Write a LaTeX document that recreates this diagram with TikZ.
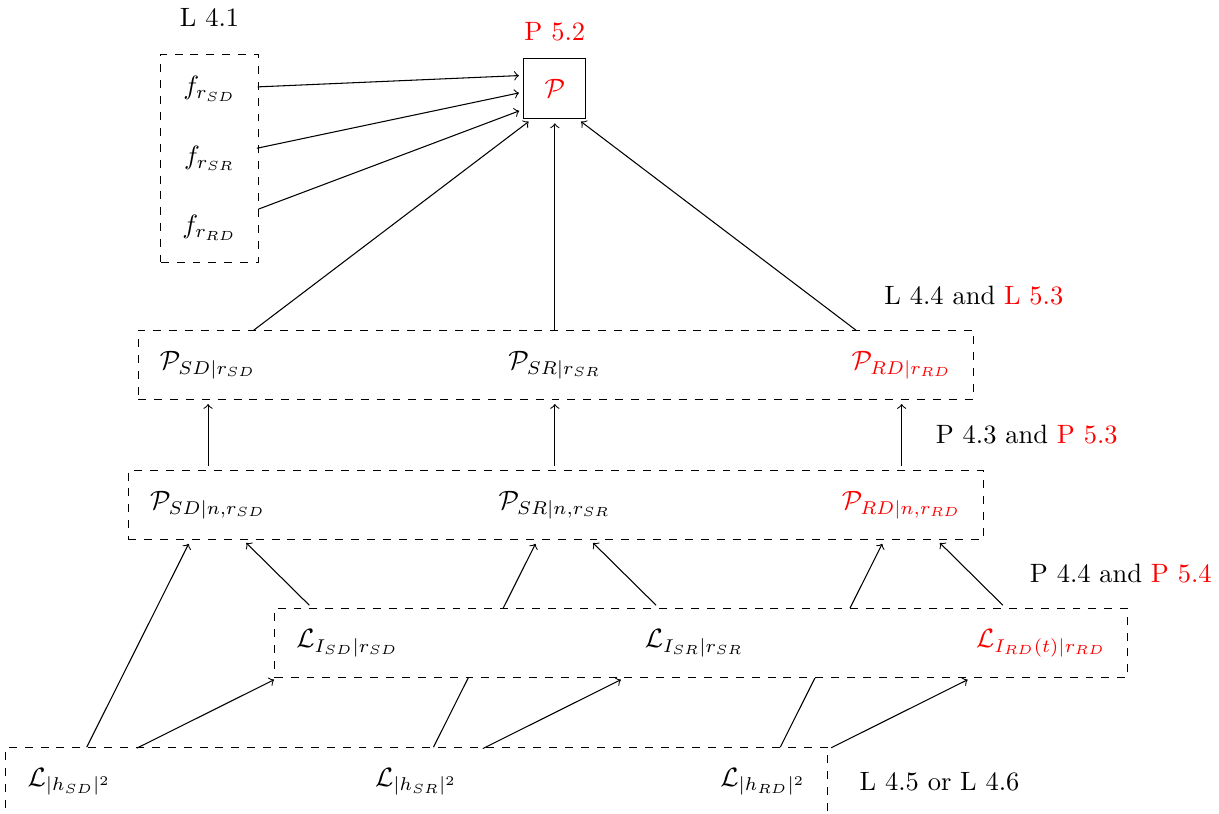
\documentclass[tikz,border=0pt]{standalone}
\usepackage{amsmath,amssymb}
\usepackage{xcolor}
\usetikzlibrary{positioning,fit,backgrounds}

\begin{document}
\begin{tikzpicture}[
    entry/.style={minimum height=0.905cm, inner xsep=8pt, inner ysep=0pt},
    dashbox/.style={draw, dashed, inner sep=0pt},
    arr/.style={->, shorten >=1.7pt},
    link/.style={->, shorten >=1.7pt, shorten <=1.7pt}
]
\def\colsep{4.6}
\useasboundingbox (0,0) rectangle (16.17,-10.796);

% --- outage probability and the distance pdfs
\node[draw, minimum width=0.82cm, minimum height=0.8cm, text=red] (P) at (7.36,-1.17) {$\mathcal{P}$};
\node[red, above=0.1cm of P] (refP) {P 5.2};

\node[entry] (fSD) at (2.78,-1.18) {$f_{r_{SD}}$};
\node[entry, below=0pt of fSD] (fSR) {$f_{r_{SR}}$};
\node[entry, below=0pt of fSR] (fRD) {$f_{r_{RD}}$};
\node[dashbox, fit=(fSD)(fSR)(fRD)] (fbox) {};
\node[above=0.24cm of fbox] (refF) {L 4.1};

% --- rows of terms, one column per link
\foreach \s/\i/\c in {SD/0/black, SR/1/black, RD/2/red} {
  \node[entry, text=\c] (pr\s) at (2.76+\i*\colsep, -4.84) {$\mathcal{P}_{\s|r_{\s}}$};
  \node[entry, text=\c] (pn\s) at (2.76+\i*\colsep, -6.70) {$\mathcal{P}_{\s|n,r_{\s}}$};
  \node[entry] (lh\s) at (0.92+\i*\colsep, -10.37) {$\mathcal{L}_{|h_{\s}|^2}$};
}
\foreach \s/\i/\c/\t in {SD/0/black/{}, SR/1/black/{}, RD/2/red/(t)}
  \node[entry, text=\c] (li\s) at (4.61+\i*\colsep, -8.53) {$\mathcal{L}_{I_{\s}\t|r_{\s}}$};

\node[dashbox, fit=(prSD)(prRD)] (prbox) {};
\node[dashbox, fit=(pnSD)(pnRD)] (pnbox) {};
\node[dashbox, fit=(lhSD)(lhRD)] (lhbox) {};

% long links run under the interference box
\begin{scope}[on background layer]
  \foreach \s in {SD,SR,RD}
    \draw[arr] (lh\s) -- (pn\s);
  \node[dashbox, fill=white, fit=(liSD)(liRD)] (libox) {};
\end{scope}

% --- connectors
\draw[arr] (fSD) -- ([yshift=0.17cm]P.west);
\draw[arr] (fSR) -- ([yshift=-0.05cm]P.west);
\draw[arr] (fRD) -- ([yshift=-0.28cm]P.west);

\draw[arr] (prSD) -- ([xshift=-0.3cm]P.south);
\draw[arr] (prSR) -- (P.south);
\draw[arr] (prRD) -- ([xshift=0.3cm]P.south);

\draw[link] (pnSD) -- (prSD);
\draw[link] (pnSR) -- (prSR);
\draw[link] (pnRD) -- (prRD)
  node[midway, right=0.33cm] (refPn) {P 4.3 and \textcolor{red}{P 5.3}};

\foreach \s in {SD,SR,RD} {
  \draw[link] (li\s) -- (pn\s);
  \draw[link] (lh\s) -- (li\s);
}

% references
\node[above=0.2cm of prbox.north east] (refPr) {L 4.4 and \textcolor{red}{L 5.3}};
\node[above=0.2cm of libox.north east, xshift=-0.1cm] (refLi) {P 4.4 and \textcolor{red}{P 5.4}};
\node[right=0.3cm of lhbox.east] (refLh) {L 4.5 or L 4.6};
\end{tikzpicture}
\end{document}
